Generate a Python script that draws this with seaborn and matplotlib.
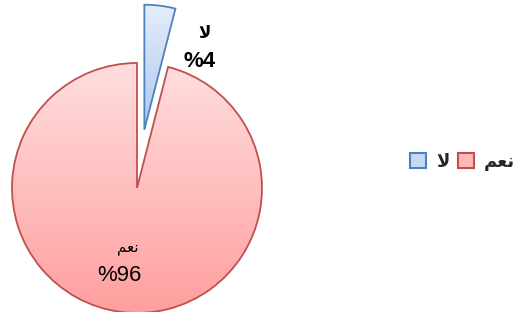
import numpy as np
import matplotlib
matplotlib.use("Agg")
import matplotlib.pyplot as plt
from matplotlib.colors import LinearSegmentedColormap
from matplotlib.patches import Patch
import seaborn as sns

# ---- data ----
categories = ["لا", "نعم"]
values = [4, 96]
pct_labels = ["%4", "%96"]

sns.set_theme(style="white")
plt.rcParams['font.family'] = ['Liberation Sans', 'DejaVu Sans']

# minimal Arabic shaping for display (matplotlib has no bidi/shaping)
_forms = {
    'ن': ('\uFEE5', '\uFEE6', '\uFEE7', '\uFEE8'),
    'ع': ('\uFEC9', '\uFECA', '\uFECB', '\uFECC'),
    'م': ('\uFEE1', '\uFEE2', '\uFEE3', '\uFEE4'),
}


def shape(s):
    if s == 'لا':
        return '\uFEFB'
    out = []
    n = len(s)
    for i, ch in enumerate(s):
        if ch not in _forms:
            out.append(ch)
            continue
        prev_j = i > 0 and s[i - 1] in _forms
        next_j = i < n - 1 and s[i + 1] in _forms
        iso, fin, ini, med = _forms[ch]
        if prev_j and next_j:
            out.append(med)
        elif prev_j:
            out.append(fin)
        elif next_j:
            out.append(ini)
        else:
            out.append(iso)
    return ''.join(reversed(out))


W, H = 522, 312
fig = plt.figure(figsize=(W / 100, H / 100), dpi=100)
# pie center at pixel (137,188), radius 125 px
ax = fig.add_axes([12 / W, (H - 313) / H, 250 / W, 312.5 / H])
ax.set_axis_off()

fills = ['#dde8f8', '#ffd6d6']
edges = ['#4f81bd', '#c0504d']
wedges, _ = ax.pie(values, startangle=90, counterclock=False,
                   explode=[0.47, 0], colors=fills,
                   wedgeprops=dict(linewidth=1.3))
for w, ec in zip(wedges, edges):
    w.set_edgecolor(ec)

grads = [LinearSegmentedColormap.from_list('b', ['#a9c4ec', '#e6eefb']),
         LinearSegmentedColormap.from_list('p', ['#ff9d9d', '#ffe0e0'])]
g = np.linspace(0, 1, 256).reshape(-1, 1)
exts = [[-1.2, 1.6, 0.4, 1.5], [-1.2, 1.2, -1.05, 1.05]]
for w, cm, ext in zip(wedges, grads, exts):
    im = ax.imshow(g, extent=ext, origin='lower', cmap=cm, aspect='auto',
                   zorder=w.get_zorder() - 0.1)
    im.set_clip_path(w)
    w.set_facecolor('none')

ax.set_xlim(-1, 1)
ax.set_ylim(-1.0, 1.5)

# labels
ax.text(0.54, 1.24, shape(categories[0]), ha='center', va='center',
        fontsize=12, fontweight='bold', color='black')
ax.text(0.50, 1.01, pct_labels[0], ha='center', va='center',
        fontsize=16, fontweight='bold', color='black')
ax.text(-0.07, -0.48, shape(categories[1]), ha='center', va='center',
        fontsize=11, color='black')
ax.text(-0.14, -0.70, pct_labels[1], ha='center', va='center',
        fontsize=16, color='black')

# legend
handles = [Patch(facecolor='#c6d9f3', edgecolor=edges[0], linewidth=1.5),
           Patch(facecolor='#ffb9b9', edgecolor=edges[1], linewidth=1.5)]
fig.legend(handles, [shape(categories[0]), shape(categories[1])],
           loc='center left', bbox_to_anchor=(410 / W, 1 - 162 / H), ncol=2,
           markerfirst=True, frameon=False, handlelength=0.9,
           handleheight=0.9, handletextpad=0.55, columnspacing=0.45,
           borderpad=0, borderaxespad=0,
           prop=dict(weight='bold', size=13))

fig.savefig('out.png', dpi=100)
